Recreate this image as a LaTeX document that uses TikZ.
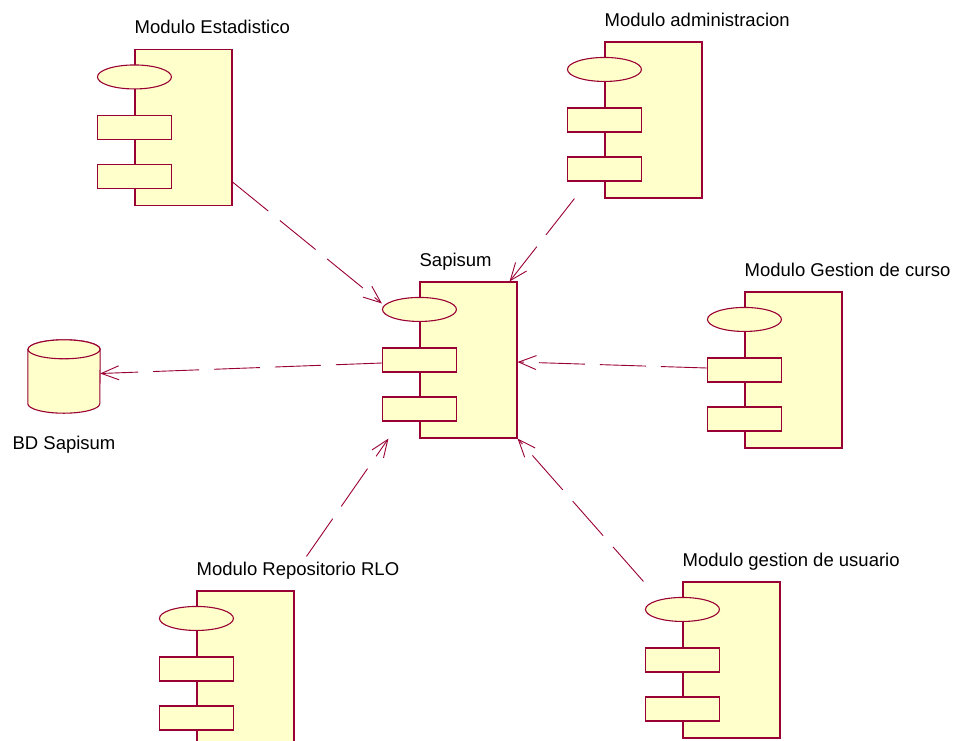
\documentclass[tikz,border=0pt]{standalone}
\usepackage{fontspec}
\setmainfont{Liberation Sans}
\usepackage{tikz}
\usetikzlibrary{arrows.meta,shapes.geometric}
\definecolor{rosered}{RGB}{153,0,51}
\definecolor{roseyellow}{RGB}{255,255,204}

\begin{document}
\begin{tikzpicture}[x=1pt,y=-1pt,
  body/.style={draw=rosered,fill=roseyellow,line width=1.1pt,minimum width=97pt,minimum height=156pt,inner sep=0pt},
  port/.style={draw=rosered,fill=roseyellow,line width=1.1pt,minimum width=74pt,minimum height=24pt,inner sep=0pt},
  knob/.style={ellipse,draw=rosered,fill=roseyellow,line width=1.1pt,minimum width=74pt,minimum height=24pt,inner sep=0pt},
  cyl/.style={draw=rosered,fill=roseyellow,line width=1.1pt},
  lbl/.style={font=\fontsize{18.5}{22}\selectfont,inner sep=0pt,anchor=base west},
  dep/.style={draw=rosered,line width=0.9pt,dash pattern=on 46pt off 15pt,-{Straight Barb[length=17.5pt,width=14pt]}}]
\clip (0,0) rectangle (953,740);

\node[body] (est) at (183.5,127.5) {};
\node[knob] (est-k) at ([yshift=-28pt]est.north west) {};
\node[port] (est-a) at (est.west) {};
\node[port] (est-b) at ([yshift=-49pt]est.west) {};
\node[lbl] (est-l) at ([yshift=15pt]est.north west) {Modulo Estadistico};

\node[body] (adm) at (653.5,120) {};
\node[knob] (adm-k) at ([yshift=-28pt]adm.north west) {};
\node[port] (adm-a) at (adm.west) {};
\node[port] (adm-b) at ([yshift=-49pt]adm.west) {};
\node[lbl] (adm-l) at ([yshift=15pt]adm.north west) {Modulo administracion};

\node[body] (sap) at (468.5,360) {};
\node[knob] (sap-k) at ([yshift=-28pt]sap.north west) {};
\node[port] (sap-a) at (sap.west) {};
\node[port] (sap-b) at ([yshift=-49pt]sap.west) {};
\node[lbl] (sap-l) at ([yshift=15pt]sap.north west) {Sapisum};

\node[body] (cur) at (793.5,370) {};
\node[knob] (cur-k) at ([yshift=-28pt]cur.north west) {};
\node[port] (cur-a) at (cur.west) {};
\node[port] (cur-b) at ([yshift=-49pt]cur.west) {};
\node[lbl] (cur-l) at ([yshift=15pt]cur.north west) {Modulo Gestion de curso};

\node[body] (usr) at (731.5,660) {};
\node[knob] (usr-k) at ([yshift=-28pt]usr.north west) {};
\node[port] (usr-a) at (usr.west) {};
\node[port] (usr-b) at ([yshift=-49pt]usr.west) {};
\node[lbl] (usr-l) at ([yshift=15pt]usr.north west) {Modulo gestion de usuario};

\node[body] (rep) at (245.5,669) {};
\node[knob] (rep-k) at ([yshift=-28pt]rep.north west) {};
\node[port] (rep-a) at (rep.west) {};
\node[port] (rep-b) at ([yshift=-49pt]rep.west) {};
\node[lbl] (rep-l) at ([yshift=15pt]rep.north west) {Modulo Repositorio RLO};

\node[minimum width=72pt,minimum height=73pt,inner sep=0pt] (bd) at (64,376.5) {};
\draw[cyl] ([yshift=-9.5pt]bd.north west) -- ([yshift=9.5pt]bd.south west)
  arc[start angle=180,end angle=360,x radius=36pt,y radius=9.5pt]
  -- ([yshift=-9.5pt]bd.north east)
  arc[start angle=0,end angle=180,x radius=36pt,y radius=9.5pt] -- cycle;
\draw[cyl] ([yshift=-9.5pt]bd.north) ellipse[x radius=36pt,y radius=9.5pt];
\node[lbl,anchor=base] (bd-l) at ([yshift=-36.5pt]bd.south) {BD Sapisum};

\draw[dep] ([yshift=-54.5pt]est.east) -- ([yshift=6pt]sap-k.west);
\draw[dep] ([xshift=-30pt]adm.south west) -- ([xshift=-8pt]sap.north east);
\draw[dep] ([yshift=2pt]cur-a.west) -- ([yshift=-2pt]sap.east);
\draw[dep] ([yshift=-3pt]sap-a.west) -- ([yshift=3pt]bd.east);
\draw[dep] ([xshift=110pt,yshift=34pt]rep.north west) -- ([xshift=-31pt]sap.south west);
\draw[dep] ([xshift=-39pt]usr.north west) -- (sap.south east);
\end{tikzpicture}
\end{document}
